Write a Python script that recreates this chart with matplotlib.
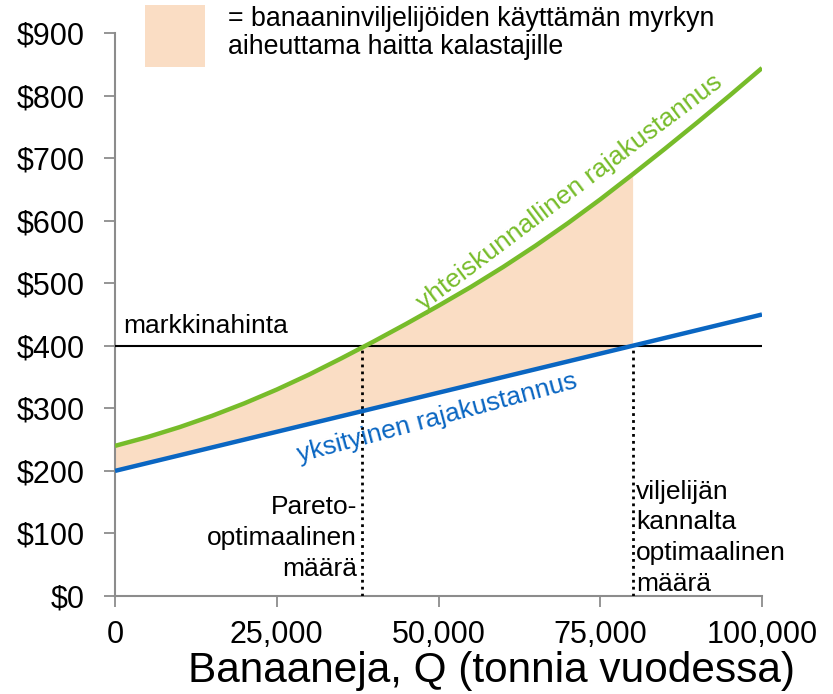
import matplotlib
matplotlib.use("Agg")
import matplotlib.pyplot as plt
from matplotlib.patches import Rectangle
from matplotlib.ticker import FuncFormatter

plt.rcParams["font.family"] = ["Liberation Sans", "DejaVu Sans"]

# Data
quantity = [0, 5000, 10000, 15000, 20000, 25000, 30000, 35000, 40000, 45000,
            50000, 55000, 60000, 65000, 70000, 75000, 80000, 85000, 90000,
            95000, 100000]
social_mc = [240, 254, 270, 288, 308, 330, 354, 380, 407, 435,
             464, 494, 526, 560, 596, 634, 674, 715, 757, 800, 844]
private_mc = [200, 212.5, 225, 237.5, 250, 262.5, 275, 287.5, 300, 312.5,
              325, 337.5, 350, 362.5, 375, 387.5, 400, 412.5, 425, 437.5, 450]
market_price = 400
pareto_q = 38200
farmer_q = 80000

x_ticks = [0, 25000, 50000, 75000, 100000]
y_ticks = [0, 100, 200, 300, 400, 500, 600, 700, 800, 900]

GREEN = "#77BC2A"
BLUE = "#0A66C2"
PEACH = "#FADDC4"
GRAY = "#8C8C8C"

fig = plt.figure(figsize=(8.33, 6.94), dpi=100)
ax = fig.add_axes([115 / 833, 1 - 596 / 694, 647 / 833, 563 / 694])

# shaded harm area (up to the farmer's optimum)
n_fill = quantity.index(farmer_q) + 1
ax.fill_between(quantity[:n_fill], private_mc[:n_fill], social_mc[:n_fill],
                color=PEACH, linewidth=0, zorder=1)

ax.plot(quantity, social_mc, color=GREEN, linewidth=3.2, zorder=4,
        solid_capstyle="butt", solid_joinstyle="round")
ax.plot(quantity, private_mc, color=BLUE, linewidth=3.2, zorder=4,
        solid_capstyle="butt")
ax.axhline(market_price, color="black", linewidth=1.5, zorder=3)
ax.plot([pareto_q, pareto_q], [0, market_price], color="black",
        linestyle=(0, (1, 1.5)), linewidth=2, zorder=3)
ax.plot([farmer_q, farmer_q], [0, market_price], color="black",
        linestyle=(0, (1, 1.5)), linewidth=2, zorder=3)

ax.set_xlim(0, 100000)
ax.set_ylim(0, 900)
ax.set_xticks(x_ticks)
ax.set_yticks(y_ticks)
ax.xaxis.set_major_formatter(FuncFormatter(lambda v, p: f"{int(v):,}"))
ax.yaxis.set_major_formatter(FuncFormatter(lambda v, p: f"${int(v)}"))
ax.tick_params(axis="y", direction="out", length=8, width=1.3, color=GRAY,
               labelsize=22, pad=14)
ax.tick_params(axis="x", direction="out", length=8, width=1.3, color=GRAY,
               labelsize=22, pad=9)
for side in ["top", "right"]:
    ax.spines[side].set_visible(False)
for side in ["left", "bottom"]:
    ax.spines[side].set_color(GRAY)
    ax.spines[side].set_linewidth(1.5)

# annotations
fs = 19
ax.text(1200, 412, "markkinahinta", fontsize=fs, ha="left", va="bottom")
ax.text(70300, 645, "yhteiskunnallinen rajakustannus", fontsize=fs,
        color=GREEN, rotation=37, ha="center", va="center",
        rotation_mode="anchor")
ax.text(49800, 284, "yksityinen rajakustannus", fontsize=fs, color=BLUE,
        rotation=15, ha="center", va="center", rotation_mode="anchor")
ax.text(pareto_q - 800, 93, "Pareto-\noptimaalinen\nmäärä", fontsize=fs,
        ha="right", va="center", linespacing=1.36)
ax.text(farmer_q + 500, 93, "viljelijän\nkannalta\noptimaalinen\nmäärä",
        fontsize=fs, ha="left", va="center", linespacing=1.36)

# legend swatch and text
fig.patches.append(Rectangle((145 / 833, 1 - 67 / 694), 60 / 833, 62 / 694,
                             transform=fig.transFigure, color=PEACH,
                             linewidth=0))
fig.text(228 / 833, 1 - 33 / 694,
         "= banaaninviljelijöiden käyttämän myrkyn\naiheuttama haitta kalastajille",
         fontsize=19.3, ha="left", va="center", linespacing=1.15)

fig.text(492 / 833, 1 - 671 / 694, "Banaaneja, Q (tonnia vuodessa)",
         fontsize=30.5, ha="center", va="center")

fig.savefig("out.png", dpi=100)
